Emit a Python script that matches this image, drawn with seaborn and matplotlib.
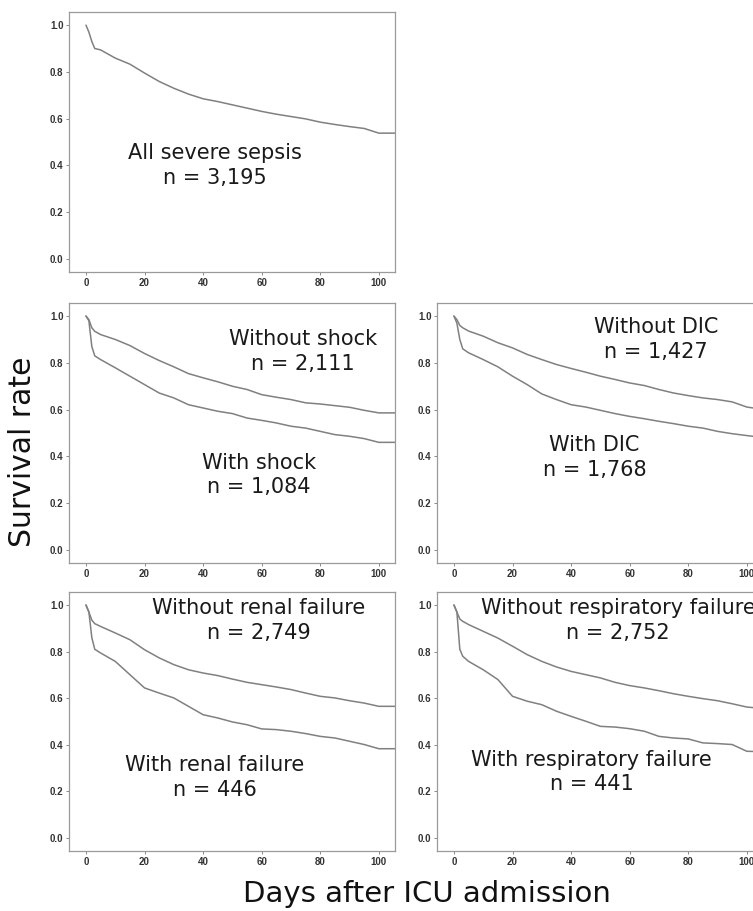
import matplotlib
matplotlib.use("Agg")
import matplotlib.pyplot as plt
import pandas as pd
import seaborn as sns

# days after ICU admission at which the curves were read
days = [0, 1, 2, 3, 5, 10, 15, 20, 25, 30, 35, 40, 45, 50, 55, 60, 65, 70, 75, 80, 85, 90, 95, 100, 106]

surv_all = [1.0, 0.97, 0.93, 0.90, 0.894, 0.859, 0.833, 0.795, 0.759, 0.730, 0.705, 0.685, 0.673,
            0.659, 0.645, 0.631, 0.619, 0.609, 0.599, 0.585, 0.575, 0.566, 0.558, 0.538, 0.538]
surv_no_shock = [1.0, 0.985, 0.95, 0.935, 0.921, 0.90, 0.874, 0.84, 0.81, 0.783, 0.754, 0.736, 0.719,
                 0.70, 0.686, 0.664, 0.653, 0.643, 0.629, 0.624, 0.617, 0.61, 0.597, 0.586, 0.586]
surv_shock = [1.0, 0.98, 0.87, 0.83, 0.814, 0.779, 0.743, 0.707, 0.671, 0.65, 0.621, 0.607, 0.593,
              0.583, 0.564, 0.554, 0.543, 0.529, 0.521, 0.507, 0.493, 0.486, 0.476, 0.46, 0.46]
surv_no_dic = [1.0, 0.985, 0.96, 0.95, 0.936, 0.914, 0.886, 0.864, 0.836, 0.814, 0.793, 0.776, 0.76,
               0.743, 0.729, 0.714, 0.703, 0.686, 0.671, 0.66, 0.65, 0.643, 0.633, 0.611, 0.60]
surv_dic = [1.0, 0.97, 0.90, 0.86, 0.843, 0.814, 0.783, 0.743, 0.707, 0.667, 0.643, 0.621, 0.611,
            0.597, 0.583, 0.571, 0.561, 0.55, 0.54, 0.529, 0.521, 0.507, 0.497, 0.489, 0.48]
surv_no_renal = [1.0, 0.97, 0.935, 0.92, 0.908, 0.88, 0.851, 0.808, 0.773, 0.744, 0.722, 0.708, 0.697,
                 0.682, 0.668, 0.658, 0.648, 0.637, 0.622, 0.608, 0.601, 0.589, 0.579, 0.565, 0.565]
surv_renal = [1.0, 0.97, 0.86, 0.81, 0.794, 0.758, 0.701, 0.644, 0.622, 0.601, 0.565, 0.529, 0.515,
              0.498, 0.486, 0.468, 0.465, 0.458, 0.448, 0.436, 0.429, 0.415, 0.401, 0.383, 0.383]
surv_no_resp = [1.0, 0.97, 0.94, 0.93, 0.916, 0.887, 0.858, 0.823, 0.787, 0.758, 0.734, 0.715, 0.701,
                0.687, 0.668, 0.654, 0.644, 0.632, 0.619, 0.608, 0.598, 0.589, 0.576, 0.562, 0.555]
surv_resp = [1.0, 0.97, 0.81, 0.78, 0.758, 0.722, 0.68, 0.608, 0.587, 0.572, 0.544, 0.522, 0.501,
             0.479, 0.476, 0.469, 0.458, 0.436, 0.429, 0.425, 0.408, 0.405, 0.401, 0.372, 0.37]

labels_all = ["All severe sepsis\nn = 3,195"]
labels_shock = ["Without shock\nn = 2,111", "With shock\nn = 1,084"]
labels_dic = ["Without DIC\nn = 1,427", "With DIC\nn = 1,768"]
labels_renal = ["Without renal failure\nn = 2,749", "With renal failure\nn = 446"]
labels_resp = ["Without respiratory failure\nn = 2,752", "With respiratory failure\nn = 441"]

y_ticks = [0.0, 0.2, 0.4, 0.6, 0.8, 1.0]
x_ticks = [0, 20, 40, 60, 80, 100]

sns.set_theme(style="ticks")
plt.rcParams["font.family"] = ["DejaVu Sans"]

fig = plt.figure(figsize=(7.53, 9.11), dpi=100)

# axes rectangles in figure fraction (right column runs off the page, as in the original)
w, h = 0.4329, 0.2854
panels = [
    ([0.0916, 0.7014, w, h], [surv_all], labels_all, [(44, 0.40)]),
    ([0.0916, 0.3820, w, h], [surv_no_shock, surv_shock], labels_shock, [(74, 0.85), (59, 0.32)]),
    ([0.5803, 0.3820, w, h], [surv_no_dic, surv_dic], labels_dic, [(69, 0.90), (48, 0.395)]),
    ([0.0916, 0.0659, w, 0.2843], [surv_no_renal, surv_renal], labels_renal, [(59, 0.935), (44, 0.26)]),
    ([0.5803, 0.0659, w, 0.2843], [surv_no_resp, surv_resp], labels_resp, [(56, 0.935), (47, 0.283)]),
]

for rect, curves, labels, text_pos in panels:
    ax = fig.add_axes(rect)
    frames = []
    for i, surv in enumerate(curves):
        frames.append(pd.DataFrame({"day": days, "surv": surv, "group": labels[i]}))
    df = pd.concat(frames, ignore_index=True)
    sns.lineplot(data=df, x="day", y="surv", hue="group", estimator=None,
                 palette=["#808080"] * len(curves), linewidth=1.1, legend=False, ax=ax)
    ax.set_xlim(-5.8, 105.5)
    ax.set_ylim(-0.056, 1.056)
    ax.set_xticks(x_ticks)
    ax.set_yticks(y_ticks)
    ax.set_xticklabels([str(t) for t in x_ticks])
    ax.set_yticklabels([f"{t:.1f}" for t in y_ticks])
    ax.set_xlabel("")
    ax.set_ylabel("")
    for side in ["left", "right", "top", "bottom"]:
        ax.spines[side].set_visible(True)
        ax.spines[side].set_color("#9a9a9a")
        ax.spines[side].set_linewidth(0.9)
    ax.tick_params(direction="out", length=2.5, width=0.7, color="#888888",
                   labelsize=7, pad=1.5, labelcolor="#333333")
    for lab in ax.get_xticklabels() + ax.get_yticklabels():
        lab.set_family("Liberation Sans")
        lab.set_fontweight("bold")
    for (tx, ty), txt in zip(text_pos, labels):
        ax.text(tx, ty, txt, ha="center", va="center", fontsize=15,
                linespacing=1.3, color="#1a1a1a")

fig.text(22.5 / 753, 1 - 452 / 911, "Survival rate", rotation=90, ha="center", va="center",
         fontsize=21.5, color="#111111")
fig.text(427 / 753, 1 - 894 / 911, "Days after ICU admission", ha="center", va="center",
         fontsize=21, color="#111111")

plt.savefig("out.png", dpi=100)
